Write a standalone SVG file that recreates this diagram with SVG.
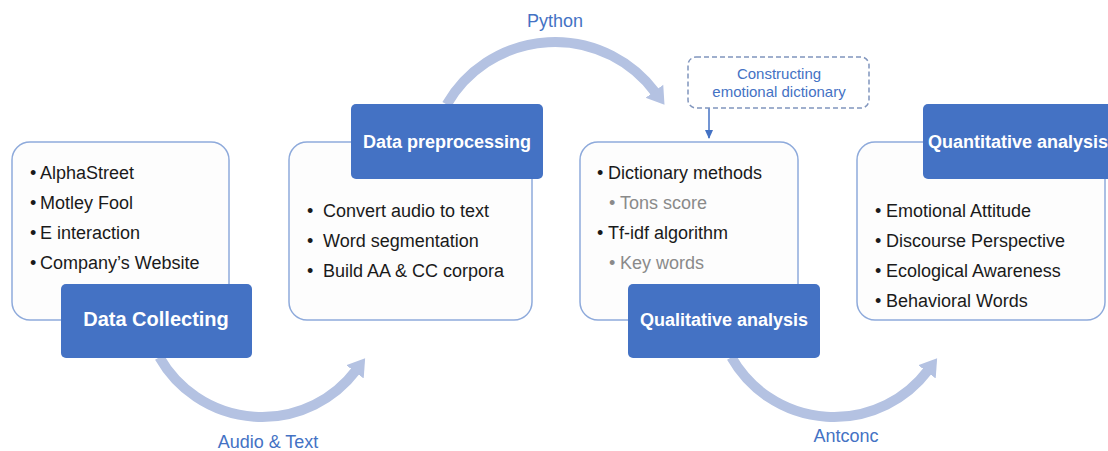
<svg xmlns="http://www.w3.org/2000/svg" width="1108" height="451" viewBox="0 0 1108 451">
<defs>
<marker id="bigHead" markerUnits="userSpaceOnUse" markerWidth="20" markerHeight="26" viewBox="0 -13 20 26" refX="2" refY="0" orient="auto">
<path d="M0,-11 L17,0 L0,11 z" fill="#b4c2e2"/>
</marker>
<marker id="smallHead" markerUnits="userSpaceOnUse" markerWidth="10" markerHeight="10" viewBox="0 -5 10 10" refX="8" refY="0" orient="auto">
<path d="M0,-4 L9,0 L0,4 z" fill="#4472c4"/>
</marker>
</defs>
<style>
.frame{fill:#fdfdfd;stroke:#8eaadb;stroke-width:1.5}
.head{fill:#4472c4}
.htxt{font-family:"Liberation Sans",Arial,sans-serif;font-weight:bold;fill:#ffffff;text-anchor:middle}
.item{font-family:"Liberation Sans",Arial,sans-serif;font-size:18px;fill:#1a1a1a}
.sub{font-family:"Liberation Sans",Arial,sans-serif;font-size:18px;fill:#8a8a8a}
.arc{fill:none;stroke:#b4c2e2;stroke-width:10;marker-end:url(#bigHead)}
.lbl{font-family:"Liberation Sans",Arial,sans-serif;font-size:18px;fill:#4472c4;text-anchor:middle}
.dash{fill:#ffffff;stroke:#8095bd;stroke-width:1.5;stroke-dasharray:5 3}
</style>
<g id="connectors">
<path class="arc" d="M 159.4 357.3 A 118 118 0 0 0 356.1 370.2"/>
<path class="arc" d="M 446.7 104.5 A 125 125 0 0 1 655.6 92.8"/>
<path class="arc" d="M 731.4 357.3 A 118 118 0 0 0 928.1 370.2"/>
<line x1="709" y1="108" x2="709" y2="138" stroke="#4472c4" stroke-width="1.5" marker-end="url(#smallHead)"/>
<text class="lbl" x="268" y="448" font-size="17.5">Audio &amp; Text</text>
<text class="lbl" x="555" y="27">Python</text>
<text class="lbl" x="846" y="442">Antconc</text>
</g>
<g id="dictionary">
<rect class="dash" x="688" y="57" width="181" height="51" rx="8"/>
<text class="lbl" x="779" y="79" style="font-size:15px">Constructing</text>
<text class="lbl" x="779" y="97" style="font-size:15px">emotional dictionary</text>
</g>
<g id="data-collecting">
<rect class="frame" x="12" y="142" width="217" height="178" rx="18"/>
<text class="item" x="30" y="179">•</text><text class="item" x="40" y="179">AlphaStreet</text>
<text class="item" x="30" y="209">•</text><text class="item" x="40" y="209">Motley Fool</text>
<text class="item" x="30" y="239">•</text><text class="item" x="40" y="239">E interaction</text>
<text class="item" x="30" y="269">•</text><text class="item" x="40" y="269">Company’s Website</text>
<rect class="head" x="61" y="284" width="191" height="74" rx="5"/>
<text class="htxt" x="156" y="326" font-size="20">Data Collecting</text>
</g>
<g id="data-preprocessing">
<rect class="frame" x="289" y="142" width="243" height="178" rx="18"/>
<text class="item" x="307" y="217">•</text><text class="item" x="323" y="217">Convert audio to text</text>
<text class="item" x="307" y="247">•</text><text class="item" x="323" y="247">Word segmentation</text>
<text class="item" x="307" y="277">•</text><text class="item" x="323" y="277">Build AA &amp; CC corpora</text>
<rect class="head" x="351" y="104" width="192" height="75" rx="5"/>
<text class="htxt" x="447" y="148" font-size="18">Data preprocessing</text>
</g>
<g id="qualitative-analysis">
<rect class="frame" x="580" y="142" width="218" height="178" rx="18"/>
<text class="item" x="597" y="179">•</text><text class="item" x="608" y="179">Dictionary methods</text>
<text class="sub" x="609" y="209">•</text><text class="sub" x="620" y="209">Tons score</text>
<text class="item" x="597" y="239">•</text><text class="item" x="608" y="239">Tf-idf algorithm</text>
<text class="sub" x="609" y="269">•</text><text class="sub" x="620" y="269">Key words</text>
<rect class="head" x="628" y="284" width="192" height="74" rx="5"/>
<text class="htxt" x="724" y="326" font-size="18">Qualitative analysis</text>
</g>
<g id="quantitative-analysis">
<rect class="frame" x="857" y="142" width="248" height="178" rx="18"/>
<text class="item" x="875" y="217">•</text><text class="item" x="886" y="217">Emotional Attitude</text>
<text class="item" x="875" y="247">•</text><text class="item" x="886" y="247">Discourse Perspective</text>
<text class="item" x="875" y="277">•</text><text class="item" x="886" y="277">Ecological Awareness</text>
<text class="item" x="875" y="307">•</text><text class="item" x="886" y="307">Behavioral Words</text>
<rect class="head" x="923" y="104" width="200" height="75" rx="5"/>
<text class="htxt" x="928" y="148" font-size="18" style="text-anchor:start">Quantitative analysis</text>
</g>
</svg>
